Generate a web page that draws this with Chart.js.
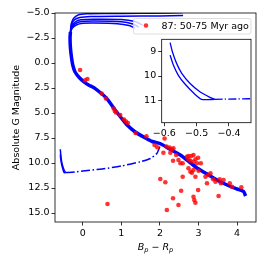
<!DOCTYPE html>
<html>
<head>
<meta charset="utf-8">
<script src="https://cdn.jsdelivr.net/npm/chart.js@4.4.0/dist/chart.umd.min.js"></script>
<style>
html, body { margin: 0; padding: 0; background: #fff; }
#wrap { position: relative; width: 266px; height: 266px; }
#main { position: absolute; left: 0; top: 0; }
#inset { position: absolute; left: 125px; top: 30px; }
</style>
</head>
<body>
<div id="wrap">
  <canvas id="main" width="266" height="266"></canvas>
  <canvas id="inset" width="136" height="115"></canvas>
</div>
<script>
// isochrone main sequence (BP-RP, abs G)
const mainSeq = [[-0.32,-3.1],[-0.33,-2.5],[-0.32,-1.5],[-0.29,-0.5],[-0.26,0.2],[-0.2,0.9],[-0.08,1.5],
  [0.05,1.95],[0.15,2.2],[0.3,2.5],[0.45,2.95],[0.6,3.45],[0.72,4.05],[0.85,4.75],[1.0,5.5],[1.15,6.2],
  [1.36,6.9],[1.6,7.45],[1.8,7.85],[2.0,8.05],[2.25,8.6],[2.53,9.2],[2.75,9.85],[2.96,10.5],[3.2,11.05],
  [3.39,11.5],[3.6,11.95],[3.83,12.35],[4.0,12.6],[4.17,12.85],[4.22,13.3]];
// giant branches of the different isochrones
const giant1 = [[-0.32,-3.1],[-0.3,-3.9],[-0.24,-4.45],[-0.12,-4.8],[0.1,-4.92],[0.6,-4.95],[1.5,-4.97],[2.6,-5.05]];
const giant2 = [[-0.32,-3.1],[-0.29,-3.8],[-0.22,-4.3],[-0.08,-4.55],[0.2,-4.65],[1.0,-4.68],[2.0,-4.7],[2.6,-4.75]];
const giant3 = [[-0.32,-3.1],[-0.28,-3.7],[-0.2,-4.1],[-0.05,-4.32],[0.3,-4.38],[1.0,-4.35],[1.35,-4.15],[1.55,-3.8]];
const giant4 = [[-0.32,-3.1],[-0.28,-3.6],[-0.19,-3.95],[-0.03,-4.15],[0.3,-4.2],[1.0,-4.12],[1.3,-3.9],[1.45,-3.6]];
const giant5 = [[-0.32,-3.1],[-0.27,-3.5],[-0.17,-3.8],[0.0,-3.97],[0.3,-4.0],[0.9,-3.93],[1.2,-3.75],[1.35,-3.5]];
// white dwarf tracks
const wdTrackA = [[-0.582,8.63],[-0.575,9.0],[-0.562,9.48],[-0.546,9.89],[-0.521,10.3],[-0.49,10.65],[-0.459,10.88],[-0.444,10.96]];
const wdTrackB = [[-0.582,9.14],[-0.572,9.55],[-0.557,9.96],[-0.536,10.33],[-0.51,10.69],[-0.485,10.96],[-0.444,10.96]];
const wdCooling = [[-0.444,10.96],[-0.2,10.9],[0,10.8],[0.5,10.6],[1.0,10.3],[1.5,9.87],[1.75,9.55],[1.92,9.05],[2.0,8.35]];
// observed stars
const stars = [[-0.07,0.7],[0.06,1.72],[0.12,1.6],[0.49,3.05],[0.6,3.55],[0.8,4.55],[0.83,4.8],[0.86,4.95],
  [0.97,5.2],[1.07,5.65],[1.12,5.85],[1.17,6.0],[1.37,7.0],[1.65,7.33],[2.12,7.55],[1.86,8.2],[1.93,8.42],
  [2.09,8.97],[2.17,8.35],[2.25,8.45],[2.31,8.63],[2.35,8.53],[2.27,8.97],[2.42,9.2],[2.34,9.77],[2.48,9.7],
  [2.53,10.03],[2.59,10.03],[2.70,9.37],[2.74,9.3],[2.81,9.3],[2.87,9.2],[2.74,9.63],[2.79,9.77],[2.87,9.87],
  [2.92,9.63],[2.99,9.47],[2.96,10.03],[3.06,10.03],[2.74,10.53],[2.79,10.87],[2.83,10.97],[2.87,10.7],
  [3.0,10.77],[2.59,11.37],[2.01,11.6],[2.14,11.93],[2.92,11.37],[3.18,11.37],[3.22,12.03],[2.99,12.7],
  [2.55,12.77],[2.87,13.37],[2.89,13.7],[2.92,13.97],[2.34,13.53],[2.48,14.2],[2.18,14.7],[3.25,11.2],
  [3.38,11.63],[3.44,11.87],[3.58,12.03],[3.52,13.3],[3.55,11.63],[3.65,11.7],[3.87,12.37],[4.11,12.43],
  [3.81,12.03],[3.31,11.03],[0.64,14.1]];

const xTicks = [0, 1, 2, 3, 4];
const yTicks = [-5, -2.5, 0, 2.5, 5, 7.5, 10, 12.5, 15];
const insetXTicks = [-0.6, -0.5, -0.4];
const insetYTicks = [9, 10, 11];
const legendLabel = "87: 50-75 Myr ago";
const yTitle = "Absolute G Magnitude";

Chart.defaults.font.family = '"DejaVu Sans"';
Chart.defaults.font.size = 9.5;
Chart.defaults.color = '#000';

const toXY = arr => arr.map(p => ({ x: p[0], y: p[1] }));
const minus = s => String(s).replace('-', '\u2212');

function lineSet(arr, width, dash) {
    return {
        data: toXY(arr), showLine: true, pointRadius: 0, borderColor: '#0000ff',
        borderWidth: width, borderDash: dash || [], tension: 0.2, fill: false, order: 2
    };
}

function axis(min, max, ticks, fmt, size, extra) {
    return Object.assign({
        min: min, max: max,
        afterBuildTicks: s => { s.ticks = ticks.map(v => ({ value: v })); },
        afterFit: s => { if (s.isHorizontal()) s.height = size; else s.width = size; },
        grid: { display: true, drawOnChartArea: false, drawTicks: true, tickLength: 3.5, color: '#000', lineWidth: 0.8 },
        border: { display: false },
        ticks: { padding: 2, maxRotation: 0, autoSkip: false, callback: fmt }
    }, extra || {});
}

// spines, legend and axis titles for the main axes
const mainDecor = {
    id: 'mainDecor',
    afterDatasetsDraw(chart) {
        const ctx = chart.ctx;
        ctx.save();
        // legend box (semi-transparent like matplotlib)
        const lx = 133.5, ly = 18.5, lw = 117.5, lh = 15.5, r = 2;
        ctx.beginPath();
        ctx.roundRect(lx, ly, lw, lh, r);
        ctx.fillStyle = 'rgba(255,255,255,0.8)';
        ctx.fill();
        ctx.strokeStyle = '#d6d6d6';
        ctx.lineWidth = 0.8;
        ctx.stroke();
        ctx.beginPath();
        ctx.arc(146, 25.5, 2.3, 0, Math.PI * 2);
        ctx.fillStyle = 'rgba(255,0,0,0.8)';
        ctx.fill();
        ctx.fillStyle = '#000';
        ctx.font = '9.5px "DejaVu Sans"';
        ctx.textBaseline = 'middle';
        ctx.fillText(legendLabel, 161.5, 26.5);
        ctx.restore();
    },
    afterDraw(chart) {
        const ctx = chart.ctx, a = chart.chartArea;
        ctx.save();
        ctx.strokeStyle = '#000';
        ctx.lineWidth = 0.8;
        ctx.strokeRect(a.left, a.top, a.right - a.left, a.bottom - a.top);
        ctx.fillStyle = '#000';
        // y title
        ctx.save();
        ctx.translate(17, (a.top + a.bottom) / 2);
        ctx.rotate(-Math.PI / 2);
        ctx.font = '9.5px "DejaVu Sans"';
        ctx.textAlign = 'center';
        ctx.textBaseline = 'middle';
        ctx.fillText(yTitle, 0, 0);
        ctx.restore();
        // x title: B_p - R_p
        const big = 'italic 9.5px "DejaVu Sans"', small = 'italic 6.7px "DejaVu Sans"', plain = '9.5px "DejaVu Sans"';
        const parts = [['B', big, 0], ['p', small, 2], [' \u2212 ', plain, 0], ['R', big, 0], ['p', small, 2]];
        let total = 0;
        parts.forEach(p => { ctx.font = p[1]; total += ctx.measureText(p[0]).width; });
        let x = (a.left + a.right) / 2 - total / 2;
        ctx.textBaseline = 'alphabetic';
        parts.forEach(p => {
            ctx.font = p[1];
            ctx.fillText(p[0], x, 250 + p[2]);
            x += ctx.measureText(p[0]).width;
        });
        ctx.restore();
    }
};

new Chart(document.getElementById('main'), {
    type: 'scatter',
    data: {
        datasets: [
            { data: toXY(stars), backgroundColor: 'rgba(255,0,0,0.8)', borderWidth: 0, pointRadius: 2.3, order: 1 },
            lineSet(mainSeq, 3.5),
            Object.assign(lineSet(giant1, 1.5), { clip: 0 }),
            Object.assign(lineSet(giant2, 1.5), { clip: 0 }),
            Object.assign(lineSet(giant3, 1.5), { clip: 0 }),
            Object.assign(lineSet(giant4, 1.5), { clip: 0 }),
            Object.assign(lineSet(giant5, 1.5), { clip: 0 }),
            lineSet(wdTrackA, 1.5),
            lineSet(wdTrackB, 1.5),
            lineSet(wdCooling, 1.5, [9, 2.5, 1.5, 2.5])
        ]
    },
    options: {
        responsive: false,
        animation: false,
        layout: { padding: { left: 0, top: 13, right: 10, bottom: 0 } },
        plugins: { legend: { display: false }, tooltip: { enabled: false } },
        scales: {
            x: axis(-0.72, 4.49, xTicks, v => minus(v), 44),
            y: axis(-5, 15.9, yTicks, v => minus(v.toFixed(1)), 55, { reverse: true })
        }
    },
    plugins: [mainDecor]
});

// inset: white face and spines
const insetDecor = {
    id: 'insetDecor',
    beforeDraw(chart) {
        const ctx = chart.ctx, a = chart.chartArea;
        ctx.save();
        ctx.fillStyle = '#fff';
        ctx.fillRect(a.left, a.top, a.right - a.left, a.bottom - a.top);
        ctx.restore();
    },
    afterDraw(chart) {
        const ctx = chart.ctx, a = chart.chartArea;
        ctx.save();
        ctx.strokeStyle = '#000';
        ctx.lineWidth = 0.8;
        ctx.strokeRect(a.left, a.top, a.right - a.left, a.bottom - a.top);
        ctx.restore();
    }
};

new Chart(document.getElementById('inset'), {
    type: 'scatter',
    data: {
        datasets: [
            lineSet(wdTrackA, 1.3),
            lineSet(wdTrackB, 1.3),
            lineSet(wdCooling, 1.3, [8, 2.2, 1.3, 2.2])
        ]
    },
    options: {
        responsive: false,
        animation: false,
        layout: { padding: { left: 0, top: 9.3, right: 10, bottom: 0 } },
        plugins: { legend: { display: false }, tooltip: { enabled: false } },
        scales: {
            x: axis(-0.608, -0.332, insetXTicks, v => minus(v.toFixed(1)), 22.3),
            y: axis(8.49, 11.92, insetYTicks, v => minus(v), 36.7, { reverse: true })
        }
    },
    plugins: [insetDecor]
});
</script>
</body>
</html>
